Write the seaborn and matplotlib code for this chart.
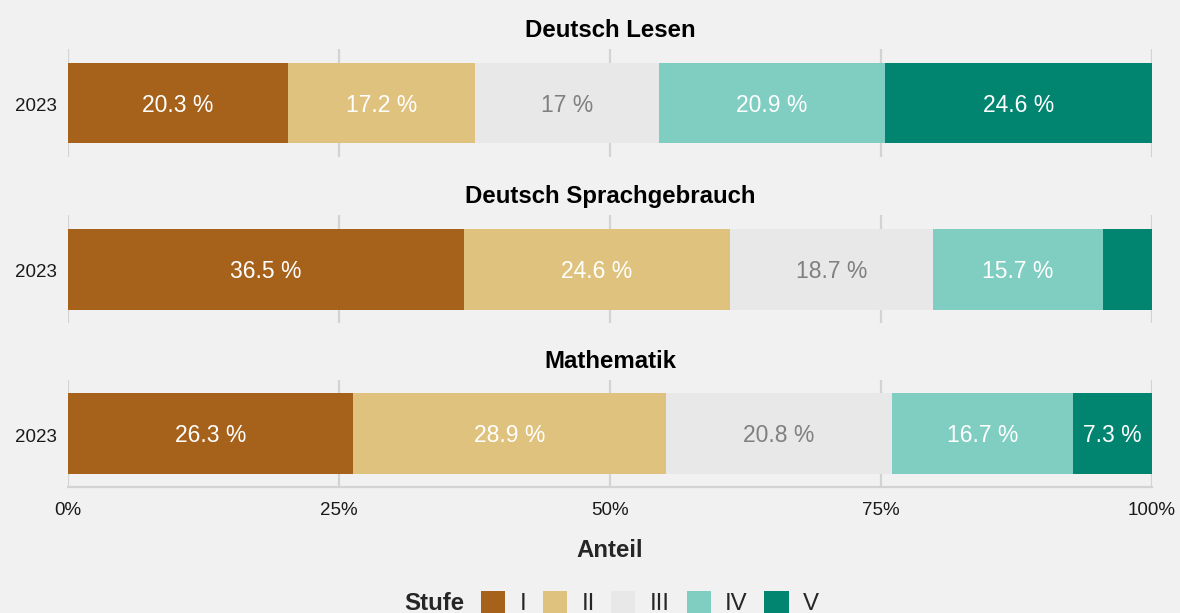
import matplotlib
matplotlib.use("Agg")
import matplotlib.pyplot as plt
from matplotlib.patches import Patch
import matplotlib.transforms as mtransforms
import seaborn as sns
import numpy as np
import pandas as pd

subjects = ["Deutsch Lesen", "Deutsch Sprachgebrauch", "Mathematik"]
stufen = ["I", "II", "III", "IV", "V"]
year = ["2023"]
lesen = [20.3, 17.2, 17.0, 20.9, 24.6]
sprach = [36.5, 24.6, 18.7, 15.7, 4.5]
mathe = [26.3, 28.9, 20.8, 16.7, 7.3]
values = [lesen, sprach, mathe]
colors = ["#a6611a", "#dfc27d", "#e8e8e8", "#80cdc1", "#018571"]
text_colors = ["white", "white", "#808080", "white", "white"]
xticks = [0, 25, 50, 75, 100]
xticklabels = ["0%", "25%", "50%", "75%", "100%"]

BG = "#f1f1f1"
GRID = "#d3d3d3"
sns.set_theme(style="white")
plt.rcParams["font.family"] = ["Liberation Sans", "DejaVu Sans"]

fig = plt.figure(figsize=(11.8, 6.13), dpi=100, facecolor=BG)
W, H = 1180, 613
left, right = 68 / W, 1152 / W
panels = [(49, 157), (215, 323), (380, 487)]

for i, (subj, vals, (top, bot)) in enumerate(zip(subjects, values, panels)):
    ax = fig.add_axes([left, 1 - bot / H, right - left, (bot - top) / H])
    ax.set_facecolor(BG)
    cum = np.cumsum(vals)
    # draw from widest cumulative to narrowest
    for j in range(len(stufen) - 1, -1, -1):
        df = pd.DataFrame({"Jahr": year, "x": [cum[j]]})
        sns.barplot(data=df, x="x", y="Jahr", orient="h", color=colors[j],
                    saturation=1, width=0.9, linewidth=0, ax=ax, zorder=2)
    starts = cum - np.array(vals)
    for j, v in enumerate(vals):
        if v >= 5:
            lab = f"{v:g} %"
            ax.text(starts[j] + v / 2, 0.025, lab, ha="center", va="center",
                    color=text_colors[j], fontsize=16.5, zorder=3)
    ax.set_xlim(0, 100)
    ax.set_ylim(0.6, -0.6)
    ax.set_xticks(xticks)
    ax.grid(axis="x", color=GRID, lw=1.6, zorder=0)
    ax.grid(axis="y", visible=False)
    ax.set_axisbelow(True)
    for s in ["top", "right", "left", "bottom"]:
        ax.spines[s].set_visible(False)
    ax.set_ylabel("")
    ax.tick_params(axis="y", length=0, pad=8, labelsize=13.5, labelcolor="#1a1a1a")
    ax.tick_params(axis="x", length=0, pad=10.5, labelsize=13.5, labelcolor="#1a1a1a")
    shift = mtransforms.ScaledTranslation(0, -1.5 / 100, fig.dpi_scale_trans)
    for t in ax.get_yticklabels():
        t.set_transform(t.get_transform() + shift)
    ax.set_title(subj, fontsize=17.3, fontweight="bold", pad=8.5, color="black")
    if i < 2:
        ax.set_xticklabels([])
        ax.set_xlabel("")
    else:
        ax.set_xticklabels(xticklabels)
        ax.spines["bottom"].set_visible(True)
        ax.spines["bottom"].set_color(GRID)
        ax.spines["bottom"].set_linewidth(1.6)
        ax.set_xlabel("Anteil", fontsize=17.3, fontweight="bold", labelpad=14.5)

handles = [Patch(facecolor=c, edgecolor="none", label=s) for c, s in zip(colors, stufen)]
leg = fig.legend(handles=handles, loc="center", bbox_to_anchor=(650 / W, 1 - 603 / H),
                 ncol=5, frameon=False, fontsize=17.3, handlelength=1.0, handleheight=1.0,
                 handletextpad=0.6, columnspacing=0.7)
fig.text(464 / W, 1 - 603 / H, "Stufe", ha="right", va="center", fontsize=17.3,
         fontweight="bold")

fig.savefig("out.png", dpi=100, facecolor=BG)
